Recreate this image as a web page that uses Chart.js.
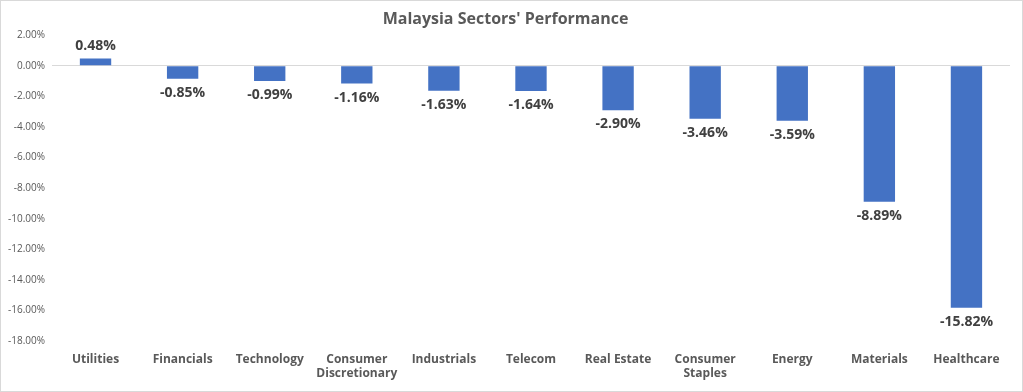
<!DOCTYPE html>
<html>
<head>
<meta charset="utf-8">
<script src="https://cdn.jsdelivr.net/npm/chart.js@4"></script>
<style>
    html, body { margin: 0; padding: 0; background: #fff; }
    #wrap { position: relative; width: 1021px; height: 390px; border: 1px solid #d9d9d9; }
</style>
</head>
<body>
<div id="wrap"><canvas id="myChart"></canvas></div>
<script>
var sectors = ['Utilities', 'Financials', 'Technology', ['Consumer', 'Discretionary'], 'Industrials',
    'Telecom', 'Real Estate', ['Consumer', 'Staples'], 'Energy', 'Materials', 'Healthcare'];
var performance = [0.48, -0.85, -0.99, -1.16, -1.63, -1.64, -2.90, -3.46, -3.59, -8.89, -15.82];
var yTicks = [2, 0, -2, -4, -6, -8, -10, -12, -14, -16, -18];

// подписи значений над/под столбиками
var valueLabels = {
    id: 'valueLabels',
    afterDatasetsDraw: function(chart) {
        var ctx = chart.ctx;
        var meta = chart.getDatasetMeta(0);
        ctx.save();
        ctx.font = 'bold 14px "Open Sans", sans-serif';
        ctx.fillStyle = '#404040';
        ctx.textAlign = 'center';
        meta.data.forEach(function(bar, i) {
            var v = performance[i];
            var text = v.toFixed(2) + '%';
            if (v >= 0) {
                ctx.textBaseline = 'bottom';
                ctx.fillText(text, bar.x, bar.y - 5);
            } else {
                ctx.textBaseline = 'top';
                ctx.fillText(text, bar.x, bar.y + 7);
            }
        });
        ctx.restore();
    }
};

var ctx = document.getElementById('myChart').getContext('2d');
var myChart = new Chart(ctx, {
    type: 'bar',
    data: {
        labels: sectors,
        datasets: [{
            data: performance,
            backgroundColor: '#4472C4',
            borderWidth: 0,
            categoryPercentage: 1,
            barPercentage: 0.36
        }]
    },
    options: {
        responsive: true,
        maintainAspectRatio: false,
        animation: false,
        layout: { padding: { top: 0, right: 12, left: 0, bottom: 7 } },
        plugins: {
            legend: { display: false },
            tooltip: { enabled: false },
            title: {
                display: true,
                text: "Malaysia Sectors' Performance",
                color: '#595959',
                font: { family: '"Open Sans", sans-serif', size: 16, weight: 'bold' },
                padding: { top: 9, bottom: 6 }
            }
        },
        scales: {
            x: {
                grid: { display: false },
                border: { display: false },
                ticks: {
                    color: '#595959',
                    font: { family: '"Open Sans", sans-serif', size: 12, weight: 'bold' },
                    maxRotation: 0,
                    autoSkip: false,
                    padding: 3
                }
            },
            y: {
                min: -18,
                max: 2,
                afterBuildTicks: function(axis) {
                    axis.ticks = yTicks.map(function(v) { return { value: v }; });
                },
                grid: {
                    drawTicks: false,
                    color: function(c) { return c.tick && c.tick.value === 0 ? '#d9d9d9' : 'rgba(0,0,0,0)'; },
                    lineWidth: 1
                },
                border: { display: false },
                ticks: {
                    color: '#595959',
                    font: { family: '"Open Sans", sans-serif', size: 10 },
                    padding: 7,
                    callback: function(value) { return value.toFixed(2) + '%'; }
                }
            }
        }
    },
    plugins: [valueLabels]
});
</script>
</body>
</html>
